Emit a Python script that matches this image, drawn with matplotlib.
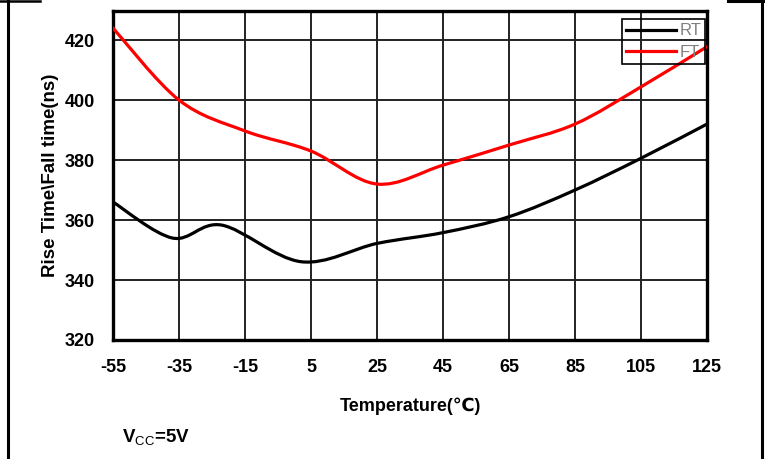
import matplotlib
matplotlib.use("Agg")
import matplotlib.pyplot as plt
import numpy as np
from matplotlib.path import Path
from matplotlib.patches import PathPatch
from matplotlib.lines import Line2D

plt.rcParams['font.family'] = ['Liberation Sans', 'DejaVu Sans']
plt.rcParams['mathtext.fontset'] = 'custom'
plt.rcParams['mathtext.rm'] = 'Liberation Sans'
plt.rcParams['axes.unicode_minus'] = False

# Rise time (RT) and fall time (FT) versus temperature, Vcc = 5 V
temp_rt = [-55, -37, -22, 2, 25, 45, 65, 85, 105, 125]
rise_ns = [366.0, 354.0, 358.3, 346.1, 352.2, 355.8, 361.1, 370.0, 380.6, 392.0]

temp_ft = [-55, -35, -15, 5, 25, 45, 65, 85, 105, 125]
fall_ns = [424.0, 400.0, 389.7, 383.0, 372.0, 378.3, 385.0, 392.0, 404.4, 417.8]

x_ticks = [-55, -35, -15, 5, 25, 45, 65, 85, 105, 125]
y_ticks = [320, 340, 360, 380, 400, 420]


def smooth_path(xs, ys):
    """Cubic Bezier path through the points (Catmull-Rom style tangents)."""
    pts = np.column_stack([xs, ys]).astype(float)
    n = len(pts)
    verts = [pts[0]]
    codes = [Path.MOVETO]
    for i in range(n - 1):
        p0 = pts[i - 1] if i > 0 else pts[i]
        p1 = pts[i]
        p2 = pts[i + 1]
        p3 = pts[i + 2] if i + 2 < n else pts[i + 1]
        c1 = p1 + (p2 - p0) / 6.0
        c2 = p2 - (p3 - p1) / 6.0
        verts += [c1, c2, p2]
        codes += [Path.CURVE4] * 3
    return Path(verts, codes)


fig = plt.figure(figsize=(7.65, 4.59), dpi=100)
ax = fig.add_axes([113 / 765, 1 - 340 / 459, (707 - 113) / 765, (340 - 11) / 459])

ax.set_xlim(-55, 125)
ax.set_ylim(320, 429.7)
ax.set_xticks(x_ticks)
ax.set_yticks(y_ticks)
ax.tick_params(axis='x', length=0, labelsize=13, pad=14)
ax.tick_params(axis='y', length=0, labelsize=13, pad=13)
for lab in ax.get_xticklabels() + ax.get_yticklabels():
    lab.set_fontweight('bold')
ax.grid(True, color='#222222', linewidth=1.4)
ax.set_axisbelow(True)
for sp in ax.spines.values():
    sp.set_linewidth(2.4)
    sp.set_color('black')

rt_color = 'black'
ft_color = '#ff0000'
ax.add_patch(PathPatch(smooth_path(temp_rt, rise_ns), fill=False,
                       edgecolor=rt_color, linewidth=2.3, zorder=3,
                       capstyle='round', joinstyle='round'))
ax.add_patch(PathPatch(smooth_path(temp_ft, fall_ns), fill=False,
                       edgecolor=ft_color, linewidth=2.3, zorder=3,
                       capstyle='round', joinstyle='round'))

handles = [Line2D([], [], color=rt_color, linewidth=2.3),
           Line2D([], [], color=ft_color, linewidth=2.3)]
leg = ax.legend(handles, ['RT', 'FT'], loc='upper right',
                bbox_to_anchor=(0.997, 0.975), frameon=True, fancybox=False,
                facecolor='none', edgecolor='black', fontsize=12,
                handlelength=3.0, handletextpad=0.2, borderpad=0.25,
                labelspacing=0.4, borderaxespad=0.0)
leg.get_frame().set_linewidth(1.2)
leg.get_frame().set_alpha(None)
for t in leg.get_texts():
    t.set_color('#808080')

ax.set_ylabel('Rise Time\\Fall time(ns)', fontsize=13.5, fontweight='bold',
              labelpad=4)
ax.set_xlabel('Temperature(\u2103)', fontsize=13, fontweight='bold',
              labelpad=15)

fig.text(122 / 765, 1 - 438 / 459, r'V$_{\mathrm{CC}}$=5V', fontsize=13.5,
         fontweight='bold', va='center', ha='left')

# surrounding table border
fig.add_artist(Line2D([8 / 765, 8 / 765], [0, 1], color='black', linewidth=2.2,
                      transform=fig.transFigure))
fig.add_artist(Line2D([761.5 / 765, 761.5 / 765], [0, 1], color='black',
                      linewidth=2.2, transform=fig.transFigure))
fig.add_artist(Line2D([0, 40 / 765], [1 - 1 / 459, 1 - 1 / 459], color='black',
                      linewidth=1.8, transform=fig.transFigure))
fig.add_artist(Line2D([728 / 765, 1], [1 - 1 / 459, 1 - 1 / 459], color='black',
                      linewidth=2.2, transform=fig.transFigure))

fig.savefig('out.png', dpi=100)
